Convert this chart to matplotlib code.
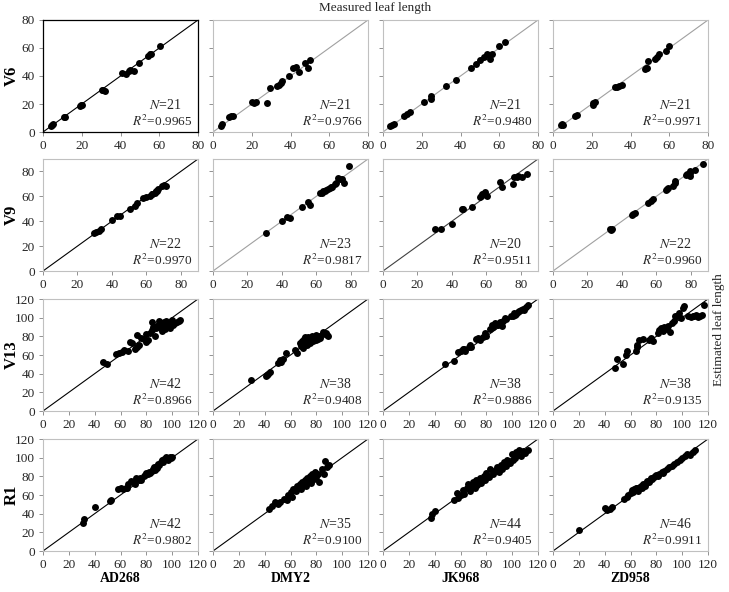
import numpy as np
import matplotlib
matplotlib.use("Agg")
import matplotlib.pyplot as plt

plt.rcParams['font.family'] = ['Liberation Serif', 'DejaVu Serif']
plt.rcParams['mathtext.fontset'] = 'stix'

cultivars = ["AD268", "DMY2", "JK968", "ZD958"]
stages = ["V6", "V9", "V13", "R1"]
axis_max = [80, 90, 120, 120]
tick_step = [20, 20, 20, 20]

n_values = [[21, 21, 21, 21], [22, 23, 20, 22], [42, 38, 38, 38], [42, 35, 44, 46]]
r2_values = [["0.9965", "0.9766", "0.9480", "0.9971"],
             ["0.9970", "0.9817", "0.9511", "0.9960"],
             ["0.8966", "0.9408", "0.9886", "0.9135"],
             ["0.9802", "0.9100", "0.9405", "0.9911"]]

# measured (x) / estimated (y) leaf length
v6_ad268_x = [4, 4.5, 5, 11, 11.5, 19, 19.5, 20, 30.5, 31, 32, 41, 43, 44.5, 45, 47, 49.5, 54, 55, 55.5, 60.5]
v6_ad268_y = [4.5, 5, 5.5, 10.5, 10.8, 18.5, 19, 19.3, 30.3, 30, 29.5, 42, 41.5, 43.5, 44, 43.5, 49, 54.5, 55.5, 56, 61.5]
v6_dmy2_x = [4, 4.5, 8.5, 9.5, 10.5, 20, 21, 22, 28, 29.5, 33, 34, 35, 35.5, 39, 41.5, 43, 44.5, 47.5, 49, 50]
v6_dmy2_y = [4.5, 5.5, 11, 11.5, 11.5, 21.5, 21, 21.5, 20.5, 31.5, 33, 33.5, 35, 36.5, 40, 45.5, 46.5, 43, 49, 46, 51.5]
v6_jk968_x = [3.8, 4.8, 5.8, 10.7, 12.4, 13.8, 21.2, 24.6, 25, 32.7, 37.9, 45.3, 48.2, 50.3, 52, 53.7, 54.5, 55.4, 56.5, 59.9, 62.8]
v6_jk968_y = [4.5, 5.3, 6, 11.2, 12.9, 14.1, 21.2, 23.9, 25.5, 33.2, 37.5, 45.8, 48.9, 51.3, 53.5, 55.4, 55, 52.5, 56, 61.3, 64.2]
v6_zd958_x = [4.3, 4.8, 5, 11.2, 12.4, 20.4, 20.8, 21.6, 32, 33, 34, 35.4, 47.5, 48, 48.4, 49.2, 52.7, 53.9, 54.9, 58.4, 60.1]
v6_zd958_y = [5.3, 6, 5, 11.2, 11.9, 19.6, 20.5, 21.2, 32, 32.3, 32.7, 33.9, 45.3, 46, 45.8, 50.6, 52.3, 53.5, 55.4, 57.8, 61.4]

v9_ad268_x = [29.6, 30.9, 32.5, 33.5, 40, 42.9, 44.9, 50.3, 53.2, 54.5, 58, 60, 61.9, 63, 63.4, 64.8, 65.8, 66, 66.9, 69.2, 70, 71.2]
v9_ad268_y = [30.2, 31, 32.3, 33.4, 41, 44.2, 44.2, 49.9, 52.6, 54.4, 58.5, 59.3, 60.4, 62, 61.5, 62.5, 63.9, 64.5, 65.8, 68.7, 69, 68.7]
v9_dmy2_x = [30.6, 40, 43.1, 44.5, 51.8, 55.3, 56.1, 61.9, 63, 63.8, 65, 65.8, 66.5, 67.7, 68.5, 69.2, 70.6, 71.6, 72.5, 73.5, 75, 76, 78.9]
v9_dmy2_y = [30.7, 40.4, 43.1, 42.6, 51.8, 55.3, 53.1, 62.5, 63, 63.9, 64.5, 65.2, 65.8, 66.6, 67.5, 67.9, 70.1, 70.6, 74.7, 74.2, 73.9, 70.6, 84]
v9_jk968_x = [30.2, 33.8, 39.8, 45.8, 46.2, 51.8, 56.5, 57.1, 57.5, 58, 59, 60.5, 68.1, 69.2, 75.4, 75.8, 78, 78.3, 80.9, 83.6]
v9_jk968_y = [33.4, 33.4, 37.5, 49.6, 50.1, 51.2, 59.3, 60.4, 61.5, 62, 63.3, 60.4, 71.4, 67.1, 69.8, 75.5, 75.5, 76.5, 75.5, 77.9]
v9_zd958_x = [33, 33.8, 34.4, 45.7, 46.5, 47.7, 55.4, 57, 58, 65.8, 66, 66.5, 69.5, 70.6, 70.6, 77.2, 78, 79.4, 79.4, 79.8, 82.7, 87]
v9_zd958_y = [33.4, 33, 33.4, 45, 45.5, 46.4, 55, 56.6, 57.7, 64.7, 65.5, 66.6, 68.5, 70.6, 72.2, 77.4, 77.8, 78.7, 80.1, 76, 81.4, 86]

v13_ad268_x = [46.5, 49.5, 56.5, 58.5, 61, 63, 65.5, 67, 69, 71, 72.5, 73, 74.5, 76, 78, 79.5, 80, 81.5, 82.5, 84, 84.5,
               85.5, 86.5, 87.5, 88.5, 89.5, 90, 91, 92, 93, 93.5, 94.5, 95, 96, 97.5, 98.5, 100, 101, 102.5, 104, 105, 106]
v13_ad268_y = [52, 50.5, 61.5, 62.5, 63.5, 65, 64.5, 74, 72.5, 66, 69, 81, 70.5, 78.5, 77, 74, 82, 76, 84, 95, 87,
               90, 80, 88.5, 91, 93, 96, 89, 86, 92, 95, 88, 96, 91, 93, 89, 97, 92, 94, 95, 96, 98]
v13_dmy2_x = [29.7, 40.8, 42, 42.6, 44.4, 50.3, 51.5, 52.1, 53, 54.2, 56.3, 63.2, 65, 67.6, 68.5, 69.2, 70, 70.2, 71,
              71.5, 72.3, 73, 73.5, 74.8, 75.5, 76.9, 77.5, 78.7, 79.5, 80, 81, 82.6, 83, 85.2, 86.7, 87.7, 88.5, 89]
v13_dmy2_y = [33.1, 37.4, 38.5, 39.2, 42.1, 51.8, 53, 54.7, 52.5, 55.8, 61.9, 65.5, 61.9, 72.7, 70, 74.5, 68, 77.3, 79.1,
              72, 76.3, 70.5, 79.1, 72.7, 78, 80.6, 75, 79.1, 81, 76.3, 77.5, 80.6, 78, 84.2, 82.7, 83.5, 81, 80]
v13_jk968_x = [47.7, 54.7, 58.3, 60.6, 62, 62.5, 63.2, 66.6, 67.6, 68.5, 72.3, 73.5, 75.4, 77.4, 78.7, 79.5, 83.1, 84.6,
               85.5, 86.5, 89, 90.8, 92.4, 93, 94.2, 95, 99.4, 100.5, 101.2, 102, 103.2, 104.5, 105.3, 107.1, 108.4,
               109.5, 110.5, 112.3]
v13_jk968_y = [50.4, 54, 63.7, 64.7, 66, 66.2, 64.7, 69.1, 70.5, 68.5, 77, 78, 76.3, 79.1, 83.5, 80.5, 87.8, 92.4,
               89.5, 94.2, 92.4, 95, 91.4, 96.5, 99.6, 98.6, 102.2, 101.5, 105, 103, 104.3, 106, 106.8, 108.6, 109.4,
               108, 111.5, 114]
v13_zd958_x = [47.9, 49.7, 53.9, 56.5, 57.5, 64.2, 64.8, 65.3, 66.8, 70, 74.6, 75.9, 77.2, 81.6, 82.4, 83.4, 85, 86,
               88.1, 89.4, 90.7, 92, 93.3, 94.6, 95.9, 97.9, 99, 101, 101.6, 104.9, 106.5, 108.3, 109.3, 110.9, 112,
               113.5, 115, 116.8]
v13_zd958_y = [45.7, 55.4, 50, 60.1, 64.7, 64.7, 69.1, 70.9, 76.3, 77, 76.3, 78, 74.5, 83.5, 87, 88.8, 85.3, 89.9,
               87.8, 90.6, 84.2, 94.2, 96, 101.4, 102.2, 105, 99.6, 110.4, 112.2, 101.4, 101, 101.4, 102.2, 103.2, 101,
               101.5, 103, 114]

r1_ad268_x = [31, 31.5, 40, 52, 53, 58, 60, 62, 64, 65, 66, 68, 70, 71, 72, 74, 75, 76, 78, 79, 80, 81, 82, 83, 84,
              85, 86, 87, 88, 88.5, 89, 90, 91, 92, 93, 94, 95, 96, 97, 98, 99, 100]
r1_ad268_y = [30, 34, 47, 54, 55, 66, 67, 66, 68, 67, 72, 75, 74, 72, 78, 76, 78, 76, 80, 81, 84, 83, 85, 84, 86,
              88, 90, 87, 91, 89, 93, 92, 95, 97, 95, 99, 101, 100, 98, 101, 100, 101]
r1_dmy2_x = [43, 46, 48, 50, 52, 55, 57, 58, 60, 61, 62, 64, 65, 66, 67, 68, 69, 70, 71, 72, 73, 74, 75, 76, 77, 78,
             79, 80, 81, 82, 84, 86, 87, 88, 90]
r1_dmy2_y = [45, 48, 52, 50, 53, 56, 55, 60, 63, 58, 66, 64, 70, 68, 72, 66, 74, 71, 76, 70, 78, 75, 80, 73, 82, 77,
             85, 79, 83, 74, 88, 82, 96, 90, 92]
r1_jk968_x = [37, 38, 40, 55, 57, 58, 60, 62, 63, 65, 66, 67, 68, 70, 71, 72, 73, 75, 76, 78, 79, 80, 82, 83, 85, 86,
              88, 90, 91, 92, 94, 95, 96, 98, 100, 101, 102, 103, 104, 105, 107, 108, 110, 112]
r1_jk968_y = [35, 40, 43, 55, 62, 57, 60, 65, 61, 67, 72, 64, 70, 74, 68, 76, 71, 78, 73, 80, 76, 84, 79, 88, 82, 86,
              90, 85, 92, 88, 95, 91, 98, 94, 104, 97, 100, 106, 103, 108, 102, 107, 105, 108]
r1_zd958_x = [20, 40, 42, 44, 46, 55, 57, 58, 60, 61, 62, 63, 64, 65, 66, 67, 68, 69, 70, 71, 72, 73, 74, 75, 76, 77,
              78, 79, 80, 81, 82, 84, 85, 86, 88, 90, 92, 94, 96, 98, 100, 102, 104, 106, 108, 110]
r1_zd958_y = [22, 46, 44, 45, 47, 56, 58, 60, 62, 65, 63, 66, 68, 67, 64, 69, 70, 68, 72, 70, 73, 75, 74, 76, 78, 77,
              79, 80, 81, 80, 83, 85, 84, 86, 88, 90, 91, 93, 95, 98, 100, 102, 104, 103, 106, 108]

xs = [[v6_ad268_x, v6_dmy2_x, v6_jk968_x, v6_zd958_x],
      [v9_ad268_x, v9_dmy2_x, v9_jk968_x, v9_zd958_x],
      [v13_ad268_x, v13_dmy2_x, v13_jk968_x, v13_zd958_x],
      [r1_ad268_x, r1_dmy2_x, r1_jk968_x, r1_zd958_x]]
ys = [[v6_ad268_y, v6_dmy2_y, v6_jk968_y, v6_zd958_y],
      [v9_ad268_y, v9_dmy2_y, v9_jk968_y, v9_zd958_y],
      [v13_ad268_y, v13_dmy2_y, v13_jk968_y, v13_zd958_y],
      [r1_ad268_y, r1_dmy2_y, r1_jk968_y, r1_zd958_y]]

line_colors = [["black", "#a0a0a0", "#a0a0a0", "#a0a0a0"],
               ["black", "#a0a0a0", "#404040", "#a0a0a0"],
               ["black", "black", "black", "black"],
               ["black", "black", "black", "black"]]

fig = plt.figure(figsize=(7.29, 5.92), dpi=100)
W, H = 729., 592.
lefts = [43, 213, 383, 553]
tops = [20, 159, 299, 439]
pw, ph = 155, 112

for i in range(4):
    for j in range(4):
        ax = fig.add_axes([lefts[j] / W, 1 - (tops[i] + ph) / H, pw / W, ph / H])
        m = axis_max[i]
        ax.plot([0, m], [0, m], color=line_colors[i][j], lw=0.8, zorder=1)
        ax.scatter(xs[i][j], ys[i][j], s=25, color="black", zorder=2, linewidths=0)
        ax.set_xlim(0, m)
        ax.set_ylim(0, m)
        ticks = np.arange(0, m + 1, tick_step[i])
        ax.set_xticks(ticks)
        ax.set_yticks(ticks)
        ax.tick_params(direction="out", length=3, width=0.6, color="#808080",
                       labelsize=9.5, labelcolor="#262626", pad=3)
        if j > 0:
            ax.set_yticklabels([])
        for sp in ax.spines.values():
            sp.set_color("black" if (i == 0 and j == 0) else "#c0c0c0")
            sp.set_linewidth(0.9 if (i == 0 and j == 0) else 0.8)
        ax.text(0.79, 0.245, r"$\it{N}$=%d" % n_values[i][j], transform=ax.transAxes,
                ha="center", va="center", fontsize=10, color="#262626")
        ax.text(0.965, 0.09, r"$\it{R}^{2}$=" + r2_values[i][j], transform=ax.transAxes,
                ha="right", va="center", fontsize=9.5, color="#262626")
        if j == 0:
            ax.text(-0.2, 0.5, stages[i], transform=ax.transAxes, rotation=90,
                    ha="center", va="center", fontsize=12, fontweight="bold")
        if i == 3:
            ax.text(0.5, -0.245, cultivars[j], transform=ax.transAxes,
                    ha="center", va="center", fontsize=10, fontweight="bold")

fig.text(375 / W, 1 - 8 / H, "Measured leaf length", ha="center", va="center", fontsize=9.5, color="#262626")
fig.text(719 / W, 1 - 330 / H, "Estimated leaf length", ha="center", va="center", rotation=90,
         fontsize=9.5, color="#262626")

fig.savefig("out.png", dpi=100)
